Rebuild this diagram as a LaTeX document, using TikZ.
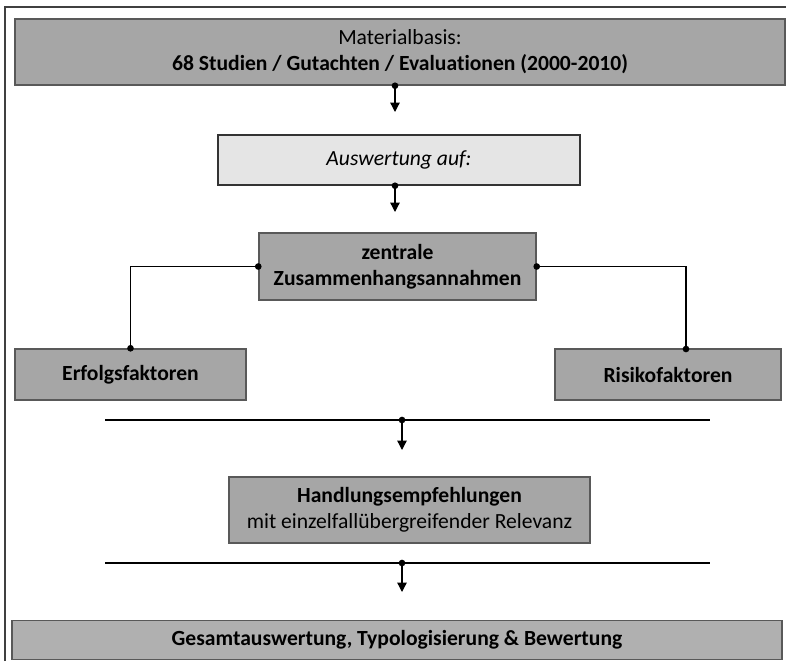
\documentclass[tikz,border=0pt]{standalone}
\usepackage{fontspec}
\setmainfont{Carlito}[Ligatures=NoCommon]
\usetikzlibrary{arrows.meta,positioning,calc}

\tikzset{
  box/.style={draw=black!65,line width=1.1pt,fill=black!35,align=center,
    inner sep=0pt,font=\fontsize{16.2}{19.5}\selectfont},
  lightbox/.style={box,fill=black!10,draw=black!80},
  conn/.style={line width=0.95pt},
  arr/.style={conn,-{Triangle[length=7pt,width=7pt]}},
  dot/.style={fill,circle,inner sep=0pt,minimum size=5pt}
}

\begin{document}
\begin{tikzpicture}[x=0.75pt,y=-0.75pt]
  \useasboundingbox (0,0) rectangle (786,661);
  % Rahmen
  \draw[black!75,line width=1.4pt] (5,661) -- (5,7) -- (786,7);

  % Kaesten
  \node[box,minimum width=770*0.75pt,minimum height=66*0.75pt] (matbasis) at (400,52)
    {Materialbasis:\\\textbf{68 Studien / Gutachten / Evaluationen (2000-2010)}};
  \node[lightbox,minimum width=362*0.75pt,minimum height=50*0.75pt] (auswertung) at (399,160)
    {\itshape Auswertung auf:};
  \node[box,minimum width=277*0.75pt,minimum height=67*0.75pt] (zentral) at (397.5,266.5)
    {\textbf{zentrale}\\\textbf{Zusammenhangsannahmen}};
  \node[box,minimum width=231*0.75pt,minimum height=51*0.75pt] (erfolg) at (130.5,374.5)
    {\textbf{Erfolgsfaktoren}};
  \node[box,minimum width=226*0.75pt,minimum height=51*0.75pt] (risiko) at (668,374.5)
    {\textbf{Risikofaktoren}};
  \node[box,minimum width=361*0.75pt,minimum height=66*0.75pt] (handlung) at (409.5,510)
    {\textbf{Handlungsempfehlungen}\\mit einzelfallübergreifender Relevanz};
  \node[box,fill=black!31,minimum width=770*0.75pt,minimum height=39*0.75pt] (gesamt) at (397,640)
    {\textbf{Gesamtauswertung, Typologisierung \& Bewertung}};

  % Hilfspunkte
  \coordinate (a1) at (395,112);
  \coordinate (a2) at (395,212);
  \coordinate (rk) at (686,349);
  \coordinate (l1a) at (105,420); \coordinate (l1b) at (710,420);
  \coordinate (l1m) at (402,420); \coordinate (a3) at (402,450);
  \coordinate (l2a) at (105,563); \coordinate (l2b) at (710,563);
  \coordinate (l2m) at (402,563); \coordinate (a4) at (402,592);

  % Verbindungen
  \draw[arr] (a1 |- matbasis.south) node[dot]{} -- (a1);
  \draw[arr] (a2 |- auswertung.south) node[dot]{} -- (a2);
  \draw[conn] (zentral.west) node[dot]{} -| (erfolg.north) node[dot]{};
  \draw[conn] (zentral.east) node[dot]{} -| (rk) node[dot]{};
  \draw[conn] (l1a) -- (l1b);
  \draw[arr] (l1m) node[dot]{} -- (a3);
  \draw[conn] (l2a) -- (l2b);
  \draw[arr] (l2m) node[dot]{} -- (a4);
\end{tikzpicture}
\end{document}
